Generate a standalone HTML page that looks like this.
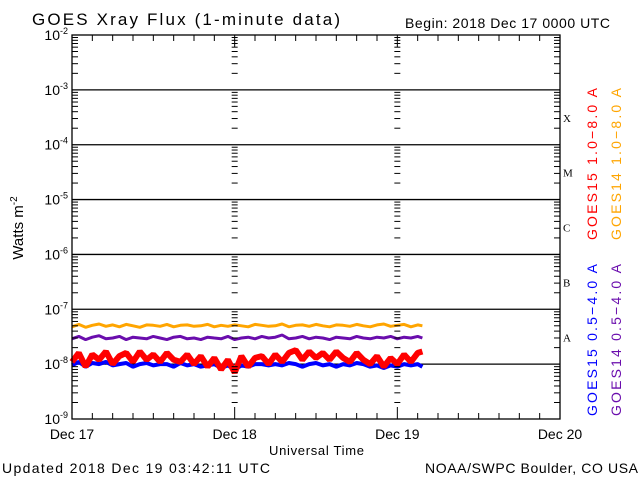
<!DOCTYPE html>
<html><head><meta charset="utf-8"><style>
html,body{margin:0;padding:0;background:#fff}
svg{display:block;font-family:"Liberation Sans",sans-serif}
</style></head><body>
<svg id="chart" width="640" height="480" viewBox="0 0 640 480">
<rect width="640" height="480" fill="#fff"/>
<text x="32" y="25" font-size="17" textLength="308" lengthAdjust="spacing" fill="#000">GOES Xray Flux (1-minute data)</text>
<text x="405" y="28" font-size="14" textLength="205" lengthAdjust="spacing" fill="#000">Begin:  2018 Dec 17 0000 UTC</text>
<text x="2" y="473" font-size="14" textLength="268" lengthAdjust="spacing" fill="#000">Updated 2018 Dec 19 03:42:11 UTC</text>
<text x="425" y="473" font-size="14" textLength="213" lengthAdjust="spacing" fill="#000">NOAA/SWPC Boulder, CO USA</text>
<text x="269" y="455" font-size="13" textLength="95" lengthAdjust="spacing" fill="#000">Universal Time</text>
<text transform="translate(23,228) rotate(-90)" font-size="15" text-anchor="middle" fill="#000">Watts m<tspan dy="-6" font-size="10">-2</tspan></text>
<g id="grid"></g>
<g id="series"></g>
<g id="axes"></g>
<text transform="translate(597,240) rotate(-90)" font-size="14" textLength="152" lengthAdjust="spacing" fill="#ff0000">GOES15 1.0−8.0 A</text>
<text transform="translate(621,240) rotate(-90)" font-size="14" textLength="152" lengthAdjust="spacing" fill="#ffa500">GOES14 1.0−8.0 A</text>
<text transform="translate(597,416) rotate(-90)" font-size="14" textLength="152" lengthAdjust="spacing" fill="#0000ff">GOES15 0.5−4.0 A</text>
<text transform="translate(621,416) rotate(-90)" font-size="14" textLength="152" lengthAdjust="spacing" fill="#6a0dad">GOES14 0.5−4.0 A</text>
</svg>
<script>
const dayLabels = ["Dec 17","Dec 18","Dec 19","Dec 20"];
const yExponents = [-2,-3,-4,-5,-6,-7,-8,-9];
const classLetters = ["X","M","C","B","A"];
const hours = [0,1,2,3,4,5,6,7,8,9,10,11,12,13,14,15,16,17,18,19,20,21,22,23,24,25,26,27,28,29,30,31,32,33,34,35,36,37,38,39,40,41,42,43,44,45,46,47,48,49,50,51,51.7];
const goes14Long = [4.8,5.3,4.7,5.1,5.4,4.9,5.2,4.8,5.3,5.0,4.7,5.2,5.1,4.9,5.3,4.8,5.1,5.2,4.9,5.0,5.3,4.8,5.1,4.9,5.2,5.0,4.8,5.3,5.1,4.9,5.0,5.4,4.8,5.1,5.2,4.9,5.3,5.0,4.8,5.2,5.1,4.9,5.3,5.0,4.8,5.2,5.4,4.9,5.1,5.3,4.8,5.2,5.0].map(v=>v*1e-8);
const goes14Short = [2.9,3.2,2.8,3.1,3.3,2.9,3.0,3.2,2.8,3.1,3.0,2.9,3.2,3.0,2.8,3.1,3.2,2.9,3.0,2.8,3.1,3.0,2.9,3.2,2.8,3.0,3.1,2.9,3.2,3.0,3.1,3.4,2.9,3.0,3.2,2.9,3.1,3.0,2.8,3.1,3.0,2.9,3.2,3.0,2.9,3.1,3.0,3.2,2.9,3.1,3.0,3.2,3.0].map(v=>v*1e-8);
const goes15Long = [1.1,1.6,0.9,1.5,1.2,1.7,1.0,1.4,1.6,1.1,1.7,1.2,1.5,1.1,1.6,1.2,1.1,1.5,1.0,1.4,0.9,1.3,0.8,1.2,0.7,1.4,0.9,1.3,1.4,1.0,1.5,1.1,1.6,1.8,1.2,1.7,1.3,1.6,1.2,1.7,1.3,1.1,1.6,1.2,1.0,1.4,0.9,1.3,1.0,1.5,1.1,1.6,1.7].map(v=>v*1e-8);
const goes15Short = [0.95,1.1,0.9,1.05,1.0,1.1,0.95,1.0,1.05,0.9,1.0,1.05,0.95,1.0,1.0,0.9,1.05,0.95,1.0,0.9,0.95,1.0,0.85,0.95,0.8,0.95,0.9,1.0,1.0,0.95,1.0,0.95,1.05,1.0,0.9,1.0,1.05,0.95,1.0,0.9,1.0,0.95,1.05,1.0,0.9,0.95,0.85,0.95,0.9,1.0,0.95,1.0,0.9].map(v=>v*1e-8);

const NS="http://www.w3.org/2000/svg";
const L=72,R=560,T=35,B=419;
const x = h => L + h/72*(R-L);
const y = v => T + (-2 - Math.log10(v))/7*(B-T);
function mk(tag,attrs,parent){const e=document.createElementNS(NS,tag);for(const k in attrs)e.setAttribute(k,attrs[k]);parent.appendChild(e);return e;}
const grid=document.getElementById('grid'),axes=document.getElementById('axes'),ser=document.getElementById('series');

yExponents.forEach((e,i)=>{
  const yy=y(Math.pow(10,e));
  if(i>0&&i<yExponents.length-1){
    const ln=mk('line',{x1:L,x2:R,y1:yy,y2:yy,stroke:'#000','stroke-width':1.3},grid);
    
    
  }
  const t=mk('text',{x:L-4,y:yy+5,'font-size':14,'text-anchor':'end',fill:'#000'},axes);
  
  
  t.textContent='10';
  const s=mk('tspan',{dy:-6,'font-size':9},t);s.textContent=String(e);
});
const dayXs=[0,24,48,72].map(x);
for(let e=-9;e<-2;e++){
  for(let m=2;m<=9;m++){
    const yy=y(m*Math.pow(10,e));
    mk('line',{x1:L,x2:L+6,y1:yy,y2:yy,stroke:'#000'},axes);
    mk('line',{x1:R-6,x2:R,y1:yy,y2:yy,stroke:'#000'},axes);
    [dayXs[1],dayXs[2]].forEach(dx=>mk('line',{x1:dx-3,x2:dx+3,y1:yy,y2:yy,stroke:'#000'},axes));
  }
}
for(let h=3;h<72;h+=3){
  const xx=x(h),len=(h%24===0)?12:6;
  mk('line',{x1:xx,x2:xx,y1:T,y2:T+len,stroke:'#000'},axes);
  mk('line',{x1:xx,x2:xx,y1:B-len,y2:B,stroke:'#000'},axes);
}
const frame=mk('rect',{x:L,y:T,width:R-L,height:B-T,fill:'none',stroke:'#000','stroke-width':1.3},axes);


dayLabels.forEach((d,i)=>{
  const t=mk('text',{x:dayXs[i],y:439,'font-size':14,'text-anchor':'middle',fill:'#000'},axes);
  
  
  t.textContent=d;
});
classLetters.forEach((c,i)=>{
  const t=mk('text',{x:563,y:y(Math.pow(10,-3-i))+32,'font-size':11,fill:'#000','font-family':'Liberation Serif, serif'},axes);
  
  
  t.textContent=c;
});
function series(vals,color,w,name){
  const pts=hours.map((h,i)=>x(h).toFixed(1)+','+y(vals[i]).toFixed(1)).join(' ');
  const p=mk('polyline',{points:pts,fill:'none',stroke:color,'stroke-width':w,'stroke-linejoin':'bevel'},ser);
  
  
}
series(goes14Long,'#ffa500',3,'series-goes14-long');
series(goes14Short,'#6a0dad',3,'series-goes14-short');
series(goes15Short,'#0000ff',4,'series-goes15-short');
series(goes15Long,'#ff0000',6,'series-goes15-long');
</script>
</body></html>
